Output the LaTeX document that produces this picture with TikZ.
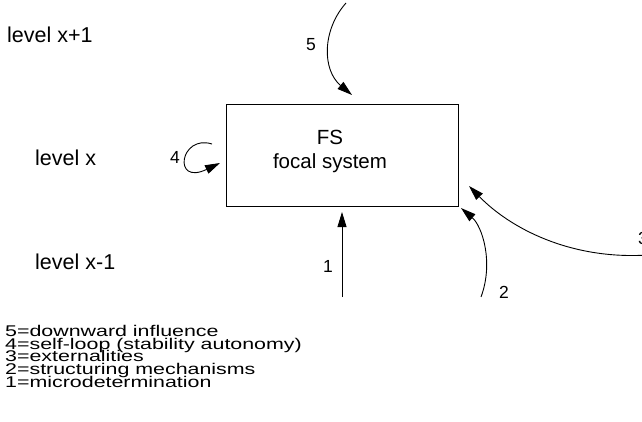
\documentclass[tikz,border=0pt]{standalone}
\usepackage{fontspec}
\setmainfont{Liberation Sans}
\usetikzlibrary{arrows.meta}

\tikzset{
  flow/.style={line width=0.9pt, -{Triangle[length=15pt,width=9pt]}},
  sysbox/.style={draw, line width=0.9pt, minimum width=232pt, minimum height=102pt, inner sep=0pt},
  boxtext/.style={font=\fontsize{20.5}{20.5}\selectfont, inner sep=0pt},
  lvl/.style={font=\fontsize{21.5}{21.5}\selectfont, anchor=west, inner sep=0pt},
  num/.style={font=\fontsize{17.5}{17.5}\selectfont, inner sep=0pt},
  legend/.style={anchor=base west, inner sep=0pt, font=\fontsize{15.5}{15.5}\selectfont}
}
% legend lines are set wide and tightly spaced
\newcommand{\legendline}[1]{\scalebox{1.38}[1]{#1}}

\begin{document}
\begin{tikzpicture}[x=1pt, y=-1pt]
  \useasboundingbox (0,0) rectangle (642,422);

  % focal system
  \node[sysbox] (fs) at (342,155) {};
  \node[boxtext] (fsname) at (330,137) {FS};
  \node[boxtext] (fslabel) at (330,163) {focal system};

  % levels
  \node[lvl] (lup) at (7,35) {level x+1};
  \node[lvl] (lmid) at (35,158) {level x};
  \node[lvl] (llow) at (35,262) {level x-1};

  % ends of the influences
  \coordinate (s5) at (346,3);
  \coordinate (e5) at (352,95);
  \coordinate (s4) at (212,144);
  \coordinate (e4) at (220,163);
  \coordinate (s1) at (342,297);
  \coordinate (e1) at (342,212);
  \coordinate (s2) at (481,297);
  \coordinate (e2) at (461,208);
  \coordinate (s3) at (648,255);
  \coordinate (e3) at (469,186);

  \draw[flow] (s5) .. controls (322,30) and (322,70) .. (e5);
  \draw[flow] (s4) .. controls (180,134) and (172,186) .. (e4);
  \draw[flow] (s1) -- (e1);
  \draw[flow] (s2) .. controls (494,262) and (482,226) .. (e2);
  \draw[flow] (s3) .. controls (570,260) and (510,228) .. (e3);

  % numbers
  \node[num] (n5) at (311,45) {5};
  \node[num] (n4) at (175,157) {4};
  \node[num] (n1) at (328,266) {1};
  \node[num] (n2) at (504,292) {2};
  \node[num] (n3) at (643,238) {3};

  % legend
  \node[legend] (k5) at (5,336) {\legendline{5=downward influence}};
  \node[legend] (k4) at (5,349) {\legendline{4=self-loop (stability autonomy)}};
  \node[legend] (k3) at (5,361) {\legendline{3=externalities}};
  \node[legend] (k2) at (5,374) {\legendline{2=structuring mechanisms}};
  \node[legend] (k1) at (5,387) {\legendline{1=microdetermination}};
\end{tikzpicture}
\end{document}
